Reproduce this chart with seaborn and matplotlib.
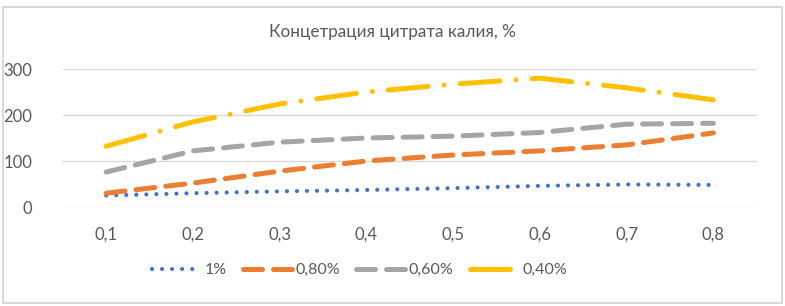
import matplotlib
matplotlib.use("Agg")
import matplotlib.pyplot as plt
import seaborn as sns
import pandas as pd
from matplotlib.patches import Rectangle

sns.set_theme(style="white")
plt.rcParams['font.family'] = ['Lato', 'DejaVu Sans']

x_labels = ["0,1", "0,2", "0,3", "0,4", "0,5", "0,6", "0,7", "0,8"]
s_1 = [25, 30, 34, 37, 41, 46, 49, 48]
s_080 = [30, 52, 78, 100, 113, 122, 135, 161]
s_060 = [76, 122, 141, 150, 154, 162, 180, 182]
s_040 = [132, 185, 224, 250, 267, 280, 259, 233]
series_names = ["1%", "0,80%", "0,60%", "0,40%"]
title = "Концетрация цитрата калия, %"

colors = ["#4472C4", "#ED7D31", "#A5A5A5", "#FFC000"]
widths = [3.0, 3.6, 3.6, 3.6]
dashes = [(0.01, 2.4), (3.8, 2.2), (3.8, 2.2), (8, 3.2, 0.01, 3.2)]

rows = []
for name, vals in zip(series_names, [s_1, s_080, s_060, s_040]):
    for i, v in enumerate(vals):
        rows.append({"x": i, "y": v, "s": name})
df = pd.DataFrame(rows)

fig = plt.figure(figsize=(7.85, 3.06), dpi=100)
ax = fig.add_axes([0.080, 0.3235, 0.884, 0.451])

for name, c, d, w in zip(series_names, colors, dashes, widths):
    sub = df[df["s"] == name]
    sns.lineplot(data=sub, x="x", y="y", ax=ax, color=c, linewidth=w,
                 label=name)
    ln = ax.get_lines()[-1]
    ln.set_dashes(d)
    ln.set_dash_capstyle("round")

ax.set_xlim(-0.5, 7.5)
ax.set_ylim(0, 300)
ax.set_yticks([0, 100, 200, 300])
ax.set_xticks(range(8))
ax.set_xticklabels(x_labels)
ax.set_xlabel("")
ax.set_ylabel("")
ax.grid(axis="y", color="#D9D9D9", linewidth=1)
ax.set_axisbelow(True)
for sp in ax.spines.values():
    sp.set_visible(False)
ax.tick_params(axis="both", colors="#595959", labelsize=12, length=0)
ax.tick_params(axis="x", pad=14)
ax.tick_params(axis="y", pad=22)

fig.text(0.5, 0.895, title, ha="center", va="center", fontsize=12.3, color="#595959")

leg = ax.legend(loc="center", bbox_to_anchor=(0.458, 1 - 270/306), bbox_transform=fig.transFigure,
                ncol=4, frameon=False, fontsize=11.5, handlelength=3.1, columnspacing=1.0,
                handletextpad=0.2, labelcolor="#595959")
for h, d in zip(leg.get_lines(), dashes):
    h.set_dash_capstyle("round")

fig.patches.append(Rectangle((3/785, 3/306), 779/785, 296/306, transform=fig.transFigure,
                             fill=False, edgecolor="#D9D9D9", linewidth=1.5))

fig.savefig("out.png", dpi=100, facecolor="white")
